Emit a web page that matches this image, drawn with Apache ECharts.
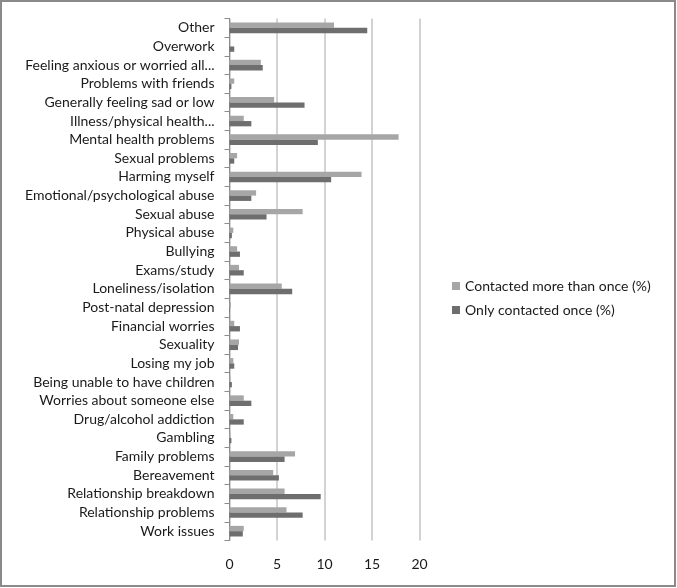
<!DOCTYPE html>
<html><head><meta charset="utf-8">
<script src="https://cdn.jsdelivr.net/npm/echarts@6/dist/echarts.min.js"></script>
<style>html,body{margin:0;padding:0;background:#fff}#c{width:677px;height:588px}</style>
</head><body><div id="c"></div>
<script>
// Categories, top to bottom as shown
const categories = ["Other","Overwork","Feeling anxious or worried all...","Problems with friends","Generally feeling sad or low","Illness/physical health...","Mental health problems","Sexual problems","Harming myself","Emotional/psychological abuse","Sexual abuse","Physical abuse","Bullying","Exams/study","Loneliness/isolation","Post-natal depression","Financial worries","Sexuality","Losing my job","Being unable to have children","Worries about someone else","Drug/alcohol addiction","Gambling","Family problems","Bereavement","Relationship breakdown","Relationship problems","Work issues"];
const contactedMoreThanOnce = [11.0,0.0,3.3,0.5,4.7,1.5,17.8,0.8,13.9,2.8,7.7,0.4,0.8,1.0,5.5,0.15,0.5,1.0,0.4,0.1,1.5,0.4,0.1,6.9,4.6,5.8,6.0,1.5];
const onlyContactedOnce = [14.5,0.5,3.5,0.2,7.9,2.3,9.3,0.5,10.7,2.3,3.9,0.25,1.1,1.5,6.6,0.05,1.1,0.9,0.5,0.25,2.3,1.5,0.2,5.8,5.2,9.6,7.7,1.4];
const xTicks = [0,5,10,15,20];
const seriesNames = ["Contacted more than once (%)","Only contacted once (%)"];

const chart = echarts.init(document.getElementById('c'), null, {renderer:'canvas'});
const font = "Lato";
const fs = 14;
chart.setOption({
  animation:false,
  backgroundColor:'#fff',
  graphic:[{type:'rect',shape:{x:1,y:1,width:674,height:585},style:{fill:'none',stroke:'#8a8a8a',lineWidth:2},silent:true}],
  grid:{left:229.5,top:18.5,width:190,height:522,containLabel:false},
  legend:{orient:'vertical',left:447,top:274,itemWidth:8,itemHeight:8,itemGap:10,icon:'rect',
    textStyle:{fontFamily:font,fontSize:fs,color:'#1a1a1a'},data:seriesNames},
  xAxis:{type:'value',min:xTicks[0],max:xTicks[xTicks.length-1],interval:5,
    axisLine:{show:false},axisTick:{show:false},
    axisLabel:{fontFamily:font,fontSize:fs,color:'#1a1a1a',margin:17},
    splitLine:{lineStyle:{color:'#c4c4c4',width:1.5}}},
  yAxis:{type:'category',data:categories,inverse:true,
    axisLine:{lineStyle:{color:'#8c8c8c',width:1}},
    axisTick:{show:true,inside:false,length:5,lineStyle:{color:'#8c8c8c'}},
    axisLabel:{fontFamily:font,fontSize:fs,color:'#1a1a1a',margin:15,interval:0},
    splitLine:{show:false}},
  series:[
    {name:seriesNames[0],type:'bar',data:contactedMoreThanOnce,itemStyle:{color:'#a6a6a6'},barGap:'0%',barCategoryGap:'43%'},
    {name:seriesNames[1],type:'bar',data:onlyContactedOnce,itemStyle:{color:'#6e6e6e'},barGap:'0%',barCategoryGap:'43%'}
  ]
});
</script></body></html>
